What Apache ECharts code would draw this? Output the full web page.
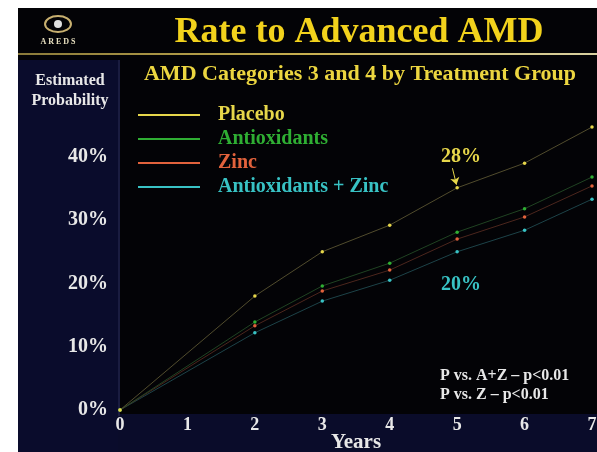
<!DOCTYPE html>
<html><head><meta charset="utf-8">
<script src="https://cdn.jsdelivr.net/npm/echarts@6/dist/echarts.min.js"></script>
<style>html,body{margin:0;padding:0;background:#fff}#c{width:597px;height:452px}</style>
</head><body><div id="c"></div>
<script>
const years = [0, 2, 3, 4, 5, 6, 7];
const placebo = [0, 0.180, 0.250, 0.292, 0.351, 0.390, 0.447];
const antioxidants = [0, 0.139, 0.196, 0.232, 0.281, 0.318, 0.368];
const zinc = [0, 0.133, 0.188, 0.221, 0.270, 0.305, 0.354];
const antioxZinc = [0, 0.122, 0.172, 0.205, 0.250, 0.284, 0.333];
const yTicks = ['0%', '10%', '20%', '30%', '40%'];
const seriesNames = ['Placebo', 'Antioxidants', 'Zinc', 'Antioxidants + Zinc'];
const colors = ['#e6d64a', '#2fae33', '#e2623c', '#38c2c4'];
const lineColors = ['#5a5432', '#244a26', '#542a20', '#204a50'];

const serif = '"Liberation Serif","Times New Roman",serif';
const chart = echarts.init(document.getElementById('c'));
const dataSets = [placebo, antioxidants, zinc, antioxZinc];

const series = dataSets.map((d, i) => ({
  name: seriesNames[i],
  type: 'line',
  data: years.map((y, k) => [y, d[k]]),
  symbol: 'circle',
  symbolSize: 3.5,
  itemStyle: { color: colors[i] },
  lineStyle: { color: lineColors[i], width: 1, opacity: 0.9 },
  z: 10 - i
}));
series[0].markLine = {
  silent: true,
  symbol: ['none', 'arrow'],
  symbolSize: 7,
  label: { show: false },
  lineStyle: { color: '#e6d64a', width: 1, type: 'solid' },
  data: [[{ coord: [4.93, 0.382] }, { coord: [4.99, 0.356] }]]
};

function txt(x, y, text, fill, font, align) {
  return { type: 'text', x: x, y: y, z: 5,
    style: { text: text, fill: fill, font: font, textAlign: align || 'center', textVerticalAlign: 'middle' } };
}

chart.setOption({
  backgroundColor: '#ffffff',
  animation: false,
  graphic: [
    { type: 'rect', shape: { x: 18, y: 8, width: 579, height: 444 }, style: { fill: '#030306' }, z: -10 },
    { type: 'rect', shape: { x: 18, y: 60, width: 100, height: 392 }, style: { fill: '#0a0c2c' }, z: -9 },
    { type: 'rect', shape: { x: 118, y: 414, width: 479, height: 38 }, style: { fill: '#0a0c2a' }, z: -9 },
    { type: 'rect', shape: { x: 118, y: 60, width: 2, height: 356 }, style: { fill: '#1a1c40' }, z: -8 },
    { type: 'rect', shape: { x: 18, y: 53, width: 579, height: 2 },
      style: { fill: new echarts.graphic.LinearGradient(0, 0, 1, 0, [
        { offset: 0, color: '#8a7a3a' }, { offset: 0.5, color: '#c8b050' }, { offset: 1, color: '#d8d0a0' }]) }, z: -8 },
    // logo
    { type: 'ellipse', shape: { cx: 58, cy: 24, rx: 13, ry: 8 }, style: { fill: 'none', stroke: '#c8b070', lineWidth: 2 }, z: 5 },
    { type: 'circle', shape: { cx: 58, cy: 24, r: 4 }, style: { fill: '#e0e0e0' }, z: 5 },
    txt(58, 42, 'A R E D S', '#e8e0c0', 'bold 8px ' + serif),
    txt(359, 33, 'Rate to Advanced AMD', '#f2d21c', 'bold 36px ' + serif),
    txt(360, 74, 'AMD Categories 3 and 4 by Treatment Group', '#ecd640', 'bold 22px ' + serif),
    txt(70, 81, 'Estimated', '#e8e8e8', 'bold 16px ' + serif),
    txt(70, 101, 'Probability', '#e8e8e8', 'bold 16px ' + serif),
    txt(461, 157, '28%', '#e6d64a', 'bold 20px ' + serif),
    txt(461, 285, '20%', '#38c2c4', 'bold 20px ' + serif),
    txt(440, 376, 'P vs. A+Z \u2013 p<0.01', '#e8e8e8', 'bold 16px ' + serif, 'left'),
    txt(440, 395, 'P vs. Z \u2013 p<0.01', '#e8e8e8', 'bold 16px ' + serif, 'left')
  ],
  legend: {
    orient: 'vertical',
    left: 138,
    top: 105,
    padding: 0,
    itemWidth: 62,
    itemHeight: 2,
    itemGap: 4,
    icon: 'rect',
    selectedMode: false,
    textStyle: { fontFamily: serif, fontWeight: 'bold', fontSize: 20, lineHeight: 20, padding: [0, 0, 0, 13] },
    data: seriesNames.map((n, i) => ({ name: n, textStyle: { color: colors[i] }, itemStyle: { color: colors[i] } }))
  },
  grid: { left: 120, right: 5, top: 93.5, bottom: 42, containLabel: false, outerBoundsMode: 'none' },
  xAxis: {
    type: 'value', min: 0, max: 7, interval: 1,
    name: 'Years', nameLocation: 'middle', nameGap: 22, nameMoveOverlap: false,
    nameTextStyle: { color: '#e8e8e8', fontFamily: serif, fontWeight: 'bold', fontSize: 21 },
    axisLine: { show: false }, axisTick: { show: false }, splitLine: { show: false },
    axisLabel: { color: '#e8e8e8', fontFamily: serif, fontWeight: 'bold', fontSize: 18, margin: 6 }
  },
  yAxis: {
    type: 'value', min: 0, max: 0.5, interval: 0.1,
    axisLine: { show: false }, axisTick: { show: false }, splitLine: { show: false },
    axisLabel: { color: '#e8e8e8', fontFamily: serif, fontWeight: 'bold', fontSize: 20, margin: 12,
      formatter: v => { const k = Math.round(v * 10); return k < yTicks.length ? yTicks[k] : ''; } }
  },
  series: series
});
</script></body></html>
